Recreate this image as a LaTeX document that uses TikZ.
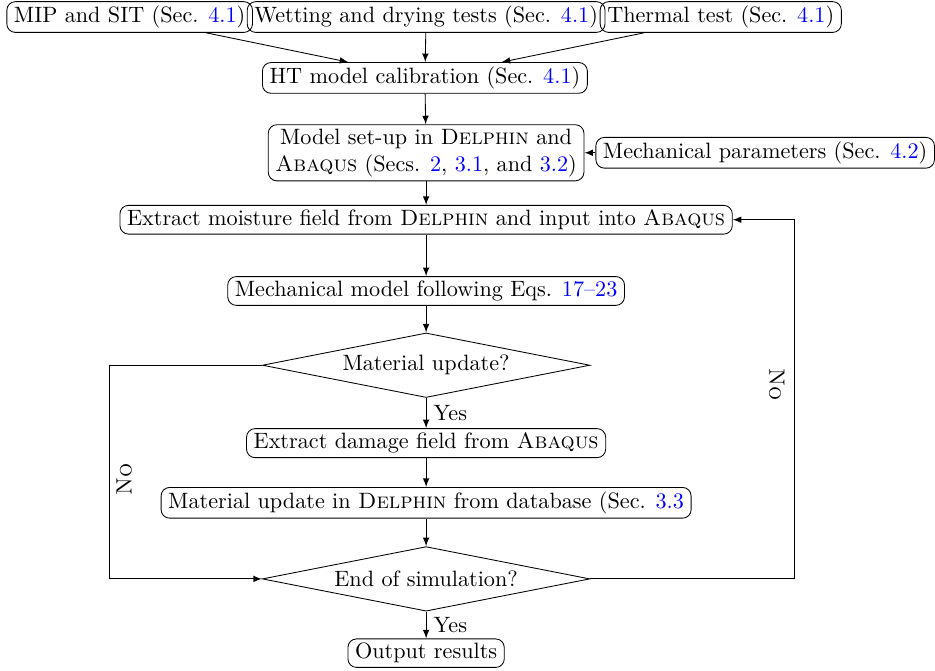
\documentclass[tikz,border=0pt]{standalone}
\usetikzlibrary{shapes.geometric}
\newcommand{\secref}[1]{\textcolor{blue}{#1}}
\tikzset{
  box/.style={draw, rounded corners, inner xsep=3.33pt, inner ysep=2pt, align=center},
  decision/.style={draw, diamond, aspect=5, inner sep=0pt, minimum width=5.38cm, minimum height=1.06cm},
  >=latex
}
\begin{document}
\begin{tikzpicture}[font=\fontsize{10.37}{12.44}\selectfont]
  \useasboundingbox (0,0) rectangle (15.36,-11.01);
  \node[box] (mip) at (2.13,-0.28) {MIP and SIT (Sec. \secref{4.1})};
  \node[box] (wet) at (7.00,-0.28) {Wetting and drying tests (Sec. \secref{4.1})};
  \node[box] (thermal) at (11.84,-0.28) {Thermal test (Sec. \secref{4.1})};
  \node[box] (ht) at (6.98,-1.28) {HT model calibration (Sec. \secref{4.1})};
  \node[box] (setup) at (7.00,-2.51) {Model set-up in \textsc{Delphin} and\\\textsc{Abaqus} (Secs. \secref{2}, \secref{3.1}, and \secref{3.2})};
  \node[box] (mech) at (12.57,-2.51) {Mechanical parameters (Sec. \secref{4.2})};
  \node[box] (moist) at (7.00,-3.61) {Extract moisture field from \textsc{Delphin} and input into \textsc{Abaqus}};
  \node[box] (mechmodel) at (7.00,-4.78) {Mechanical model following Eqs. \secref{17--23}};
  \node[decision] (matupd) at (7.00,-6.00) {Material update?};
  \node[box] (damage) at (7.00,-7.28) {Extract damage field from \textsc{Abaqus}};
  \node[box] (matdb) at (7.00,-8.26) {Material update in \textsc{Delphin} from database (Sec. \secref{3.3}};
  \node[decision] (endsim) at (7.00,-9.51) {End of simulation?};
  \node[box] (output) at (7.00,-10.73) {Output results};

  \draw[->] (mip) -- (ht);
  \draw[->] (wet) -- (ht);
  \draw[->] (thermal) -- (ht);
  \draw[->] (ht) -- (setup);
  \draw[->] (mech) -- (setup);
  \draw[->] (setup) -- (moist);
  \draw[->] (moist) -- (mechmodel);
  \draw[->] (mechmodel) -- (matupd);
  \draw[->] (matupd) -- node[right] {Yes} (damage);
  \draw[->] (damage) -- (matdb);
  \draw[->] (matdb) -- (endsim);
  \draw[->] (endsim) -- node[right] {Yes} (output);
  \draw[->] (matupd.west) -- ++(-2.51,0) |- (endsim.west);
  \draw[->] (endsim.east) -- ++(3.35,0) |- (moist.east);
  \node[rotate=90, anchor=north] (noleft) at (1.79,-7.88) {\textsc{No}};
  \node[rotate=-90, anchor=north] (noright) at (13.01,-6.32) {\textsc{No}};
\end{tikzpicture}
\end{document}
